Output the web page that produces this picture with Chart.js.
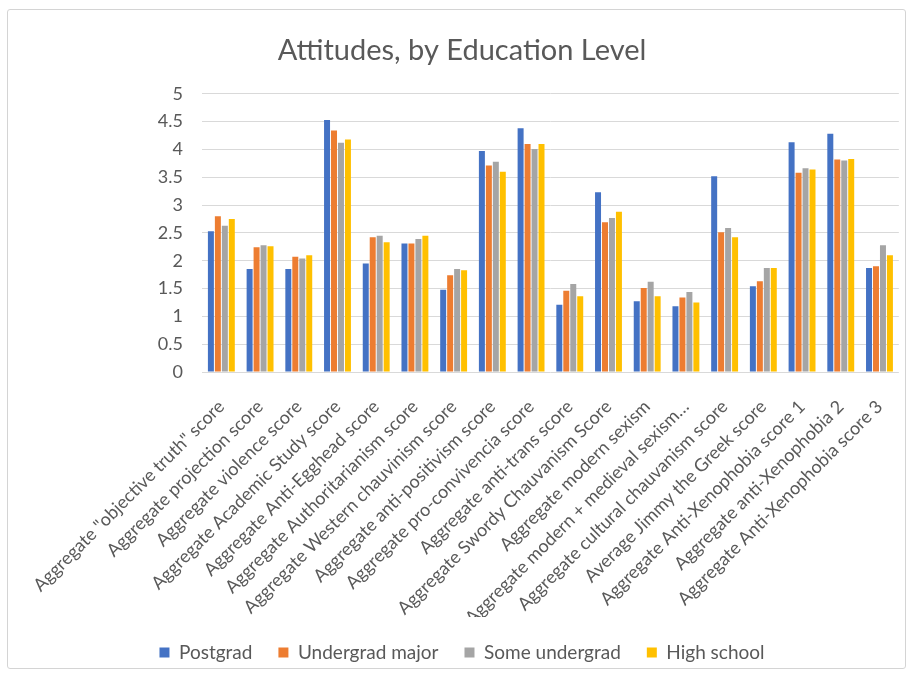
<!DOCTYPE html>
<html>
<head>
<meta charset="utf-8">
<script src="https://cdn.jsdelivr.net/npm/chart.js@4.4.1/dist/chart.umd.min.js"></script>
<style>
  html, body { margin: 0; padding: 0; background: #fff; }
  #wrap { position: relative; width: 911px; height: 677px; }
  #frame { position: absolute; left: 7px; top: 9px; width: 897px; height: 658px; border: 1px solid #d4d4d4; border-radius: 3px; pointer-events: none; }
</style>
</head>
<body>
<div id="wrap">
  <canvas id="chart" width="911" height="677"></canvas>
  <div id="frame"></div>
</div>
<script>
// categories
const labels = [
    'Aggregate "objective truth" score',
    "Aggregate projection score",
    "Aggregate violence score",
    "Aggregate Academic Study score",
    "Aggregate Anti-Egghead score",
    "Aggregate Authoritarianism score",
    "Aggregate Western chauvinism score",
    "Aggregate anti-positivism score",
    "Aggregate pro-convivencia score",
    "Aggregate anti-trans score",
    "Aggregate Swordy Chauvanism Score",
    "Aggregate modern sexism",
    "Aggregate modern + medieval sexism…",
    "Aggregate cultural chauvanism score",
    "Average Jimmy the Greek score",
    "Aggregate Anti-Xenophobia score 1",
    "Aggregate anti-Xenophobia 2",
    "Aggregate Anti-Xenophobia score 3",
];

// series values
const postgrad = [2.53, 1.85, 1.85, 4.53, 1.95, 2.31, 1.48, 3.97, 4.38, 1.21, 3.23, 1.27, 1.18, 3.52, 1.54, 4.13, 4.28, 1.87];
const undergradMajor = [2.80, 2.24, 2.07, 4.34, 2.42, 2.31, 1.74, 3.71, 4.10, 1.46, 2.69, 1.51, 1.34, 2.51, 1.63, 3.58, 3.82, 1.90];
const someUndergrad = [2.63, 2.28, 2.04, 4.12, 2.45, 2.39, 1.85, 3.78, 4.01, 1.58, 2.77, 1.62, 1.44, 2.59, 1.87, 3.66, 3.80, 2.28];
const highSchool = [2.75, 2.26, 2.10, 4.18, 2.33, 2.45, 1.83, 3.60, 4.10, 1.36, 2.88, 1.36, 1.25, 2.42, 1.87, 3.64, 3.83, 2.10];

const seriesNames = ["Postgrad", "Undergrad major", "Some undergrad", "High school"];
const seriesColors = ["#4472C4", "#ED7D31", "#A5A5A5", "#FFC000"];

const textColor = "#595959";
const font = "Lato, 'Noto Sans', sans-serif";

const datasets = [postgrad, undergradMajor, someUndergrad, highSchool].map((values, i) => ({
    label: seriesNames[i],
    data: values,
    backgroundColor: seriesColors[i],
    borderWidth: 0,
    categoryPercentage: 0.72,
    barPercentage: 0.86,
}));

new Chart(document.getElementById("chart"), {
    type: "bar",
    data: { labels, datasets },
    options: {
        responsive: false,
        animation: false,
        layout: { padding: { left: 22, right: 9, top: 14, bottom: 5 } },
        plugins: {
            title: {
                display: true,
                text: "Attitudes, by Education Level",
                color: textColor,
                font: { family: font, size: 29, weight: "normal" },
                padding: { top: 19, bottom: 26 },
            },
            legend: {
                position: "bottom",
                labels: {
                    color: textColor,
                    font: { family: font, size: 19 },
                    boxWidth: 10,
                    boxHeight: 10,
                    padding: 26,
                },
            },
            tooltip: { enabled: false },
        },
        scales: {
            x: {
                afterFit: (s) => { s.height = 245; },
                grid: { display: false },
                border: { display: false },
                ticks: {
                    color: textColor,
                    font: { family: font, size: 18 },
                    minRotation: 45,
                    maxRotation: 45,
                    autoSkip: false,
                    padding: 16,
                },
            },
            y: {
                min: 0,
                max: 5,
                afterFit: (s) => { s.width = 180; },
                border: { display: false },
                grid: { color: "#d9d9d9", lineWidth: 1, drawTicks: false },
                ticks: {
                    stepSize: 0.5,
                    color: textColor,
                    font: { family: font, size: 18 },
                    padding: 19,
                    callback: (v) => v.toString(),
                },
            },
        },
    },
});
</script>
</body>
</html>
